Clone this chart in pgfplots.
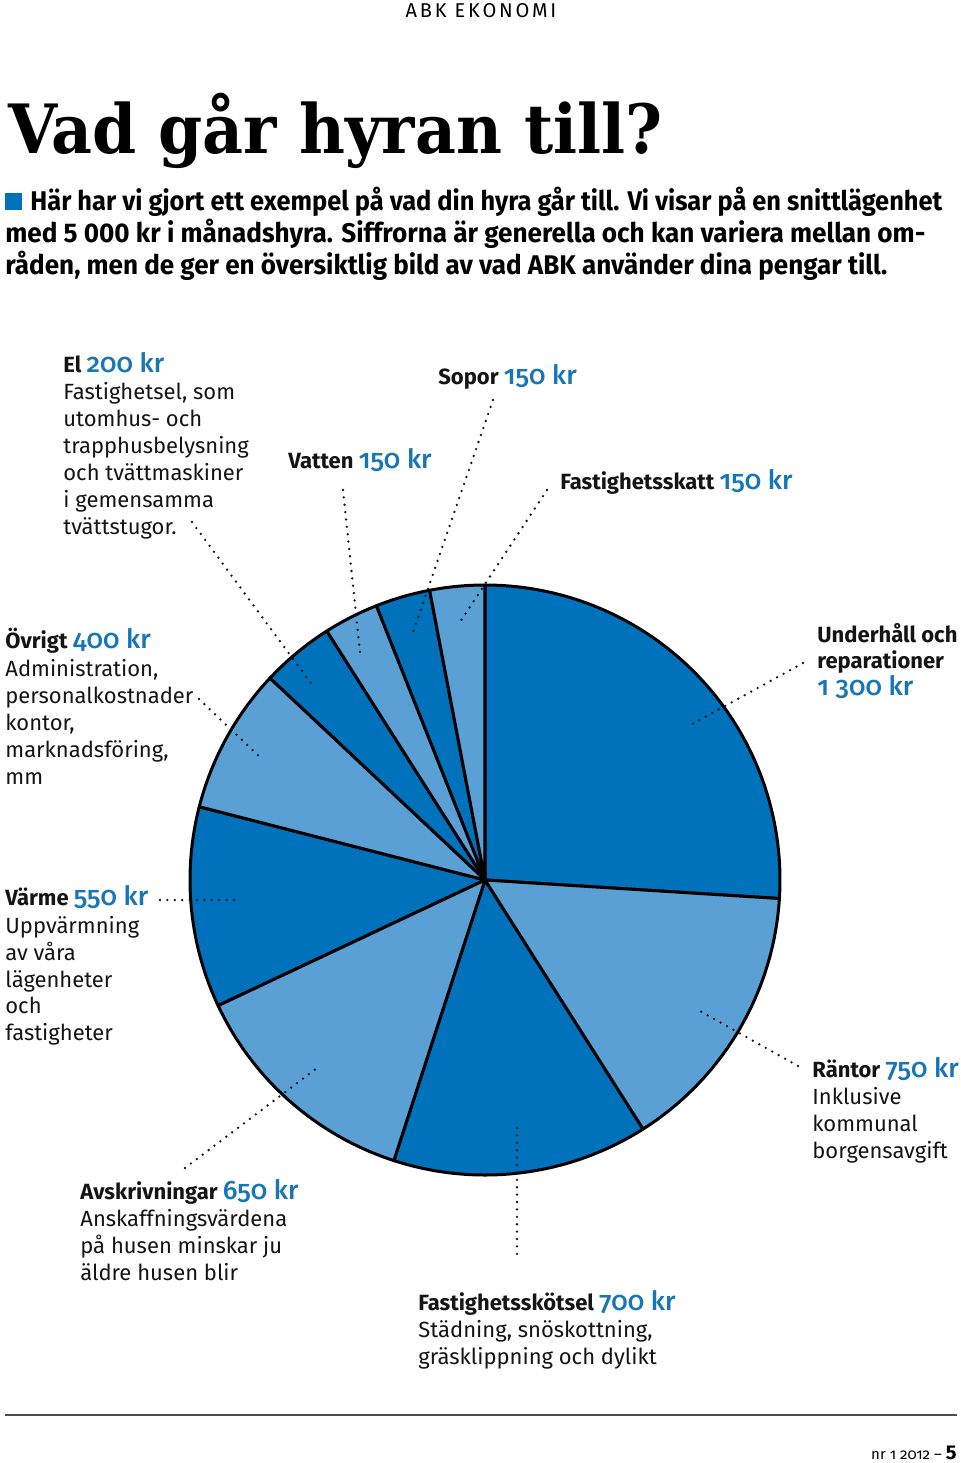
\documentclass[border=0pt]{standalone}
\usepackage{fontspec}
\setmainfont{Fira Sans}
\newfontfamily\numfont{Fira Sans Medium}[Numbers=OldStyle]
\newfontfamily\titlefont{DejaVu Serif}
\newfontfamily\capsfont{Fira Sans}[LetterSpace=14]
\usepackage{graphicx}
\usepackage{pgfplots}
\usepackage{pgfplotstable}
\pgfplotsset{compat=1.18}
\definecolor{darkblue}{RGB}{0,114,187}
\definecolor{lightblue}{RGB}{91,160,213}
\definecolor{numblue}{RGB}{24,118,182}
\definecolor{ink}{RGB}{20,20,20}

\pgfplotstableread{
name value
Underhall 1300
Rantor 750
Fastighetsskotsel 700
Avskrivningar 650
Varme 550
Ovrigt 400
El 200
Vatten 150
Sopor 150
Fastighetsskatt 150
}\piedata

\pgfplotstablegetrowsof{\piedata}
\pgfmathtruncatemacro\lastrow{\pgfplotsretval-1}
\gdef\pietotal{0}
\foreach \i in {0,...,\lastrow}{%
  \pgfplotstablegetelem{\i}{value}\of\piedata
  \pgfmathsetmacro\tmp{\pietotal+\pgfplotsretval}%
  \xdef\pietotal{\tmp}%
}
\gdef\pieacc{0}
\foreach \i in {0,...,\lastrow}{%
  \pgfplotstablegetelem{\i}{value}\of\piedata
  \pgfmathsetmacro\tmp{\pieacc+(\pgfplotsretval/\pietotal)*360}%
  \expandafter\xdef\csname pieA\i\endcsname{\pieacc}%
  \expandafter\xdef\csname pieB\i\endcsname{\tmp}%
  \xdef\pieacc{\tmp}%
}

\newcommand\hd[2]{{\bfseries\fontsize{11}{13}\selectfont #1} {\numfont\color{numblue}\fontsize{13.3}{16}\selectfont #2}}
\newcommand\hb[1]{{\bfseries\fontsize{11}{13}\selectfont #1}}
\newcommand\hn[1]{{\numfont\color{numblue}\fontsize{13.3}{16}\selectfont #1}}
\newcommand\bd{\fontsize{11}{13.5}\selectfont}

\begin{document}
\begin{tikzpicture}
\begin{axis}[x=0.5pt, y=0.5pt, xmin=0, xmax=960, ymin=0, ymax=1463,
  y dir=reverse, hide axis, clip=false, scale only axis]
\path (axis cs:0,0) rectangle (axis cs:960,1463);
% pie slices
\pgfplotsinvokeforeach{0,2,4,6,8}{%
  \filldraw[fill=darkblue, draw=black, line width=1.5pt, line join=round]
   (axis cs:485,880) -- (axis cs:{485+295*sin(\csname pieA#1\endcsname)},{880-295*cos(\csname pieA#1\endcsname)})
   arc[start angle={90-\csname pieA#1\endcsname}, end angle={90-\csname pieB#1\endcsname}, radius=147.5pt] -- cycle;
}
\pgfplotsinvokeforeach{1,3,5,7,9}{%
  \filldraw[fill=lightblue, draw=black, line width=1.5pt, line join=round]
   (axis cs:485,880) -- (axis cs:{485+295*sin(\csname pieA#1\endcsname)},{880-295*cos(\csname pieA#1\endcsname)})
   arc[start angle={90-\csname pieA#1\endcsname}, end angle={90-\csname pieB#1\endcsname}, radius=147.5pt] -- cycle;
}
% leader lines
\tikzset{leader/.style={ink, line width=1.3pt, line cap=round, dash pattern=on 0pt off 3.7pt}}
\draw[leader] (axis cs:192,522) -- (axis cs:313,686);
\draw[leader] (axis cs:343,490) -- (axis cs:360,652);
\draw[leader] (axis cs:493,400) -- (axis cs:412,635);
\draw[leader] (axis cs:547,490) -- (axis cs:460,622);
\draw[leader] (axis cs:199,699) -- (axis cs:263,760);
\draw[leader] (axis cs:803,663) -- (axis cs:687,727);
\draw[leader] (axis cs:160,900) -- (axis cs:238,900);
\draw[leader] (axis cs:798,1066) -- (axis cs:700,1011);
\draw[leader] (axis cs:185,1168) -- (axis cs:317,1068);
\draw[leader] (axis cs:517,1128) -- (axis cs:517,1260);

% header
\node[anchor=base, inner sep=0pt, font=\capsfont\fontsize{10}{12}\selectfont] at (axis cs:481,17) {ABK EKONOMI};
\node[anchor=base west, inner sep=0pt] at (axis cs:8,153) {\resizebox{327pt}{\height}{\titlefont\bfseries\fontsize{34}{40}\selectfont Vad går hyran till?}};
\fill[darkblue] (axis cs:5,193) rectangle (axis cs:22,210);
\node[anchor=base west, inner sep=0pt] at (axis cs:30,210) {\resizebox{456pt}{\height}{\bfseries\fontsize{13.5}{16}\selectfont Här har vi gjort ett exempel på vad din hyra går till. Vi visar på en snittlägenhet}};
\node[anchor=base west, inner sep=0pt] at (axis cs:5,242) {\resizebox{460pt}{\height}{\bfseries\fontsize{13.5}{16}\selectfont med 5 000 kr i månadshyra. Siffrorna är generella och kan variera mellan om-}};
\node[anchor=base west, inner sep=0pt] at (axis cs:5,274) {\resizebox{441pt}{\height}{\bfseries\fontsize{13.5}{16}\selectfont råden, men de ger en översiktlig bild av vad ABK använder dina pengar till.}};

% labels
\tikzset{lab/.style={anchor=base west, inner sep=0pt, text=ink}}
% El
\node[lab] at (axis cs:63,372) {\hd{El}{200 kr}};
\node[lab, font=\bd] at (axis cs:63,399) {Fastighetsel, som};
\node[lab, font=\bd] at (axis cs:63,426) {utomhus- och};
\node[lab, font=\bd] at (axis cs:63,453) {trapphusbelysning};
\node[lab, font=\bd] at (axis cs:63,480) {och tvättmaskiner};
\node[lab, font=\bd] at (axis cs:63,507) {i gemensamma};
\node[lab, font=\bd] at (axis cs:63,534) {tvättstugor.};
% Sopor, Vatten, Fastighetsskatt
\node[lab] at (axis cs:438,384) {\hd{Sopor}{150 kr}};
\node[lab] at (axis cs:288,468) {\hd{Vatten}{150 kr}};
\node[lab] at (axis cs:560,489) {\hd{Fastighetsskatt}{150 kr}};
% Övrigt
\node[lab] at (axis cs:5,648) {\hd{Övrigt}{400 kr}};
\node[lab, font=\bd] at (axis cs:5,676) {Administration,};
\node[lab, font=\bd] at (axis cs:5,703) {personalkostnader};
\node[lab, font=\bd] at (axis cs:5,730) {kontor,};
\node[lab, font=\bd] at (axis cs:5,757) {marknadsföring,};
\node[lab, font=\bd] at (axis cs:5,784) {mm};
% Underhåll
\node[lab] at (axis cs:817,642) {\hb{Underhåll och}};
\node[lab] at (axis cs:817,668) {\hb{reparationer}};
\node[lab] at (axis cs:817,695) {\hn{1 300 kr}};
% Värme
\node[lab] at (axis cs:5,905) {\hd{Värme}{550 kr}};
\node[lab, font=\bd] at (axis cs:5,933) {Uppvärmning};
\node[lab, font=\bd] at (axis cs:5,960) {av våra};
\node[lab, font=\bd] at (axis cs:5,987) {lägenheter};
\node[lab, font=\bd] at (axis cs:5,1013) {och};
\node[lab, font=\bd] at (axis cs:5,1040) {fastigheter};
% Räntor
\node[lab] at (axis cs:812,1077) {\hd{Räntor}{750 kr}};
\node[lab, font=\bd] at (axis cs:812,1104) {Inklusive};
\node[lab, font=\bd] at (axis cs:812,1131) {kommunal};
\node[lab, font=\bd] at (axis cs:812,1158) {borgensavgift};
% Avskrivningar
\node[lab] at (axis cs:80,1199) {\hd{Avskrivningar}{650 kr}};
\node[lab, font=\bd] at (axis cs:80,1226) {Anskaffningsvärdena};
\node[lab, font=\bd] at (axis cs:80,1253) {på husen minskar ju};
\node[lab, font=\bd] at (axis cs:80,1280) {äldre husen blir};
% Fastighetsskötsel
\node[lab] at (axis cs:418,1310) {\hd{Fastighetsskötsel}{700 kr}};
\node[lab, font=\bd] at (axis cs:418,1337) {Städning, snöskottning,};
\node[lab, font=\bd] at (axis cs:418,1364) {gräsklippning och dylikt};

% footer
\draw[black!70, line width=0.75pt] (axis cs:5,1415) -- (axis cs:957,1415);
\node[anchor=base east, inner sep=0pt] at (axis cs:957,1459) {{\addfontfeatures{Numbers=OldStyle}\fontsize{7.5}{9}\selectfont nr 1 2012 – }{\bfseries\fontsize{10}{12}\selectfont 5}};
\end{axis}
\end{tikzpicture}
\end{document}
